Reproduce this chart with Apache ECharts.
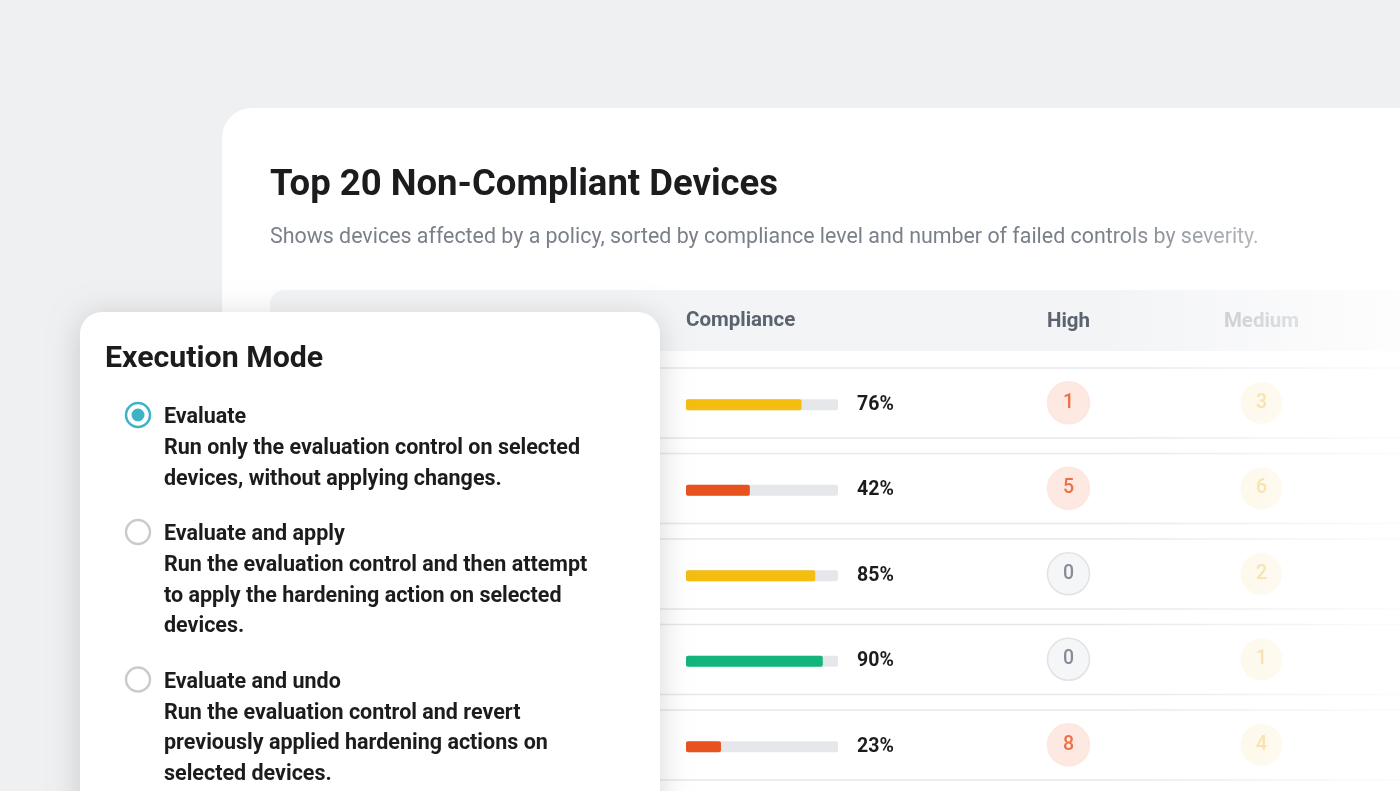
<!DOCTYPE html>
<html><head><meta charset="utf-8">
<script src="https://cdn.jsdelivr.net/npm/echarts@6/dist/echarts.min.js"></script>
<style>html,body{margin:0;padding:0;background:#eef0f2}#c{width:1400px;height:791px}</style>
</head><body><div id="c"></div>
<script>
// row data
var rows = ['d1', 'd2', 'd3', 'd4', 'd5'];
var compliance = [76, 42, 85, 90, 23];
var barColors = ['#f4bd10', '#e8521f', '#f4bd10', '#13b57c', '#e8521f'];
var highCount = [1, 5, 0, 0, 8];
var mediumCount = [3, 6, 2, 1, 4];
var colNames = ['High', 'Medium'];

var options = [
  { title: 'Evaluate', lines: ['Run only the evaluation control on selected', 'devices, without applying changes.'], on: true },
  { title: 'Evaluate and apply', lines: ['Run the evaluation control and then attempt', 'to apply the hardening action on selected', 'devices.'], on: false },
  { title: 'Evaluate and undo', lines: ['Run the evaluation control and revert', 'previously applied hardening actions on', 'selected devices.'], on: false }
];

var F = 'Roboto, sans-serif';
var graphics = [];
function txt(x, y, s, size, weight, color, z) {
  graphics.push({ type: 'text', z: z || 1, x: x, y: y, style: { text: s, fontSize: size, fontWeight: weight, fontFamily: F, fill: color } });
}
// main card
graphics.push({ type: 'rect', z: 0, shape: { x: 222, y: 108, width: 1300, height: 800, r: 30 }, style: { fill: '#fff' } });
txt(270, 167, 'Top 20 Non-Compliant Devices', 36.5, 'bold', '#1c1c1e');
txt(270, 227, 'Shows devices affected by a policy, sorted by compliance level and number of failed controls by severity.', 21.4, 'normal', '#7a808a');
graphics.push({ type: 'rect', z: 1, shape: { x: 270, y: 290, width: 1200, height: 61, r: [14, 0, 0, 0] }, style: { fill: '#f3f4f6' } });
txt(686, 310, 'Compliance', 20.5, 'bold', '#5b6270', 2);
// row boxes
for (var i = 0; i < rows.length; i++) {
  graphics.push({ type: 'rect', z: 1, shape: { x: 270, y: 368 + i * 85.5, width: 1200, height: 70 }, style: { fill: '#fff', stroke: '#e6e8eb', lineWidth: 1.5 } });
}
// right fade
graphics.push({ type: 'rect', z: 50, shape: { x: 1100, y: 108, width: 300, height: 700 },
  style: { fill: { type: 'linear', x: 0, y: 0, x2: 1, y2: 0, colorStops: [{ offset: 0, color: 'rgba(255,255,255,0)' }, { offset: 1, color: 'rgba(255,255,255,0.85)' }] } } });
// overlay card
graphics.push({ type: 'rect', z: 60, shape: { x: 80, y: 312, width: 580, height: 600, r: 22 }, style: { fill: '#fff', shadowBlur: 30, shadowColor: 'rgba(0,0,0,0.16)', shadowOffsetY: 4 } });
txt(105, 344, 'Execution Mode', 30.3, 'bold', '#1c1c1e', 61);
var y = 407;
options.forEach(function (o) {
  graphics.push({ type: 'circle', z: 61, shape: { cx: 138, cy: y + 8, r: 12 }, style: { fill: '#fff', stroke: o.on ? '#3cb4c6' : '#c9cbce', lineWidth: 2.5 } });
  if (o.on) graphics.push({ type: 'circle', z: 62, shape: { cx: 138, cy: y + 8, r: 6.5 }, style: { fill: '#3cb4c6' } });
  txt(164, y, o.title, 21.5, 'bold', '#1c1c1e', 61);
  o.lines.forEach(function (l, k) { txt(164, y + 31 + k * 30.5, l, 21.5, 'bold', '#1c1c1e', 61); });
  y += 31 + o.lines.length * 30.5 + 25;
});

var highData = highCount.map(function (v, i) {
  var zero = v === 0;
  return { value: [0, i], label: { formatter: String(v), color: zero ? '#6b7280' : '#e8521f' },
    itemStyle: { color: zero ? '#f3f4f6' : '#fde3da', borderColor: zero ? '#d9dce0' : '#fde3da', borderWidth: 1.5 } };
});
var medData = mediumCount.map(function (v, i) {
  return { value: [1, i], label: { formatter: String(v), color: '#f0c24a' }, itemStyle: { color: '#fdf3d8' } };
});

var chart = echarts.init(document.getElementById('c'));
chart.setOption({
  animation: false,
  graphic: { elements: graphics },
  grid: [
    { left: 686, width: 152, top: 362, height: 427.5 },
    { left: 972, width: 386, top: 290, height: 497.5 }
  ],
  xAxis: [
    { gridIndex: 0, type: 'value', min: 0, max: 100, show: false },
    { gridIndex: 1, type: 'category', data: colNames, position: 'top', axisLine: { show: false }, axisTick: { show: false }, z: 5,
      axisLabel: { margin: -42, formatter: function (v) { return v === 'High' ? '{a|' + v + '}' : '{b|' + v + '}'; },
        rich: { a: { fontFamily: F, fontSize: 20.5, fontWeight: 'bold', color: '#5b6270' }, b: { fontFamily: F, fontSize: 20.5, fontWeight: 'bold', color: '#b3b7be' } } } }
  ],
  yAxis: [
    { gridIndex: 0, type: 'category', data: rows, inverse: true, show: false },
    { gridIndex: 1, type: 'value', min: -1.32, max: 4.5, inverse: true, show: false }
  ],
  series: [
    { type: 'bar', xAxisIndex: 0, yAxisIndex: 0, z: 3, barWidth: 11, data: rows.map(function () { return 100; }),
      itemStyle: { color: '#e5e7eb', borderRadius: 2 }, silent: true,
      label: { show: true, position: 'right', distance: 19, fontFamily: F, fontSize: 19.5, fontWeight: 'bold', color: '#1c1c1e',
        formatter: function (p) { return compliance[p.dataIndex] + '%'; } } },
    { type: 'bar', xAxisIndex: 0, yAxisIndex: 0, z: 4, barWidth: 11, barGap: '-100%',
      data: compliance.map(function (v, i) { return { value: v, itemStyle: { color: barColors[i] } }; }),
      itemStyle: { borderRadius: 2 } },
    { type: 'scatter', xAxisIndex: 1, yAxisIndex: 1, z: 4, symbolSize: 42, data: highData,
      label: { show: true, position: 'inside', fontFamily: F, fontSize: 19.5, fontWeight: 500 } },
    { type: 'scatter', xAxisIndex: 1, yAxisIndex: 1, z: 4, symbolSize: 42, data: medData,
      label: { show: true, position: 'inside', fontFamily: F, fontSize: 19.5, fontWeight: 500 } }
  ]
});
</script></body></html>
